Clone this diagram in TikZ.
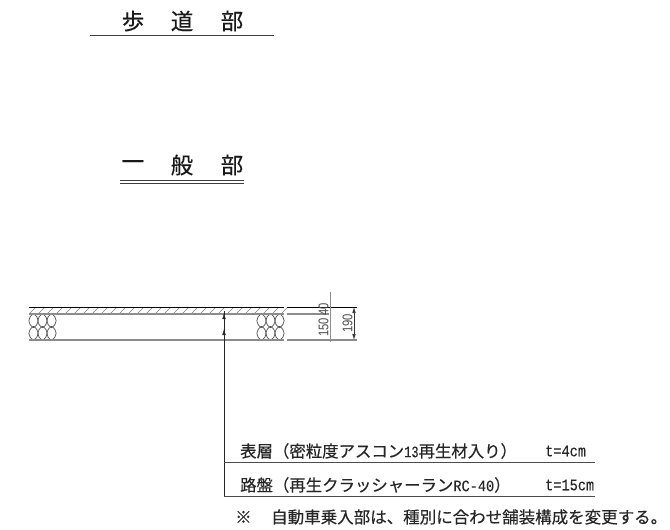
\documentclass[tikz,border=0pt]{standalone}
\usepackage{fontspec}
\usepackage{graphicx}
\usetikzlibrary{arrows.meta}
\setmainfont[FakeBold=0.25]{Noto Sans CJK JP}
\newfontfamily\lat[FakeBold=0.15]{Liberation Mono}
\newfontfamily\dimfont{Liberation Sans}
\newcommand{\narrowdim}[1]{\scalebox{0.8}[1]{#1}}
\newcommand{\narrowlat}[2][0.85]{\scalebox{#1}[1]{\fontsize{16}{16}\selectfont\lat #2}}
\begin{document}
\begin{tikzpicture}[x=1pt,y=-1pt,
  head/.style={inner sep=0pt,font=\fontsize{22.5}{23}\selectfont,text=black!90},
  lab/.style={inner sep=0pt,anchor=west,font=\fontsize{16.4}{17}\selectfont,text=black!85},
  note/.style={inner sep=0pt,anchor=west,font=\fontsize{16.5}{17}\selectfont,text=black!85},
  dimt/.style={inner sep=0pt,rotate=90,font=\fontsize{14}{14}\selectfont\dimfont,text=black!70},
  ln/.style={line width=0.8pt,black!75},
  gl/.style={line width=1.2pt,black!45},
  hatchline/.style={line width=0.7pt,black!50},
  rule/.style={line width=0.7pt,black!70},
  ov/.style={line width=0.75pt,black!65},
  tip/.style={-{Latex[length=6pt,width=3.5pt]},black!85}]
\useasboundingbox[fill=white] (0,0) rectangle (670,530);
% headings
\node[head] (h1) at (133,21) {歩};
\node[head] (h2) at (182,21) {道};
\node[head] (h3) at (232,21) {部};
\draw[ln] (90,35) -- (274,35);
\node[head] (g1) at (133,165) {一};
\node[head] (g2) at (182,165) {般};
\node[head] (g3) at (232,165) {部};
\draw[ln] (120,180) -- (244,180);
\draw[ln] (120,183.5) -- (244,183.5);
% hatch
\foreach \x in {29,38,...,281}
  \draw[hatchline] (\x,314) -- (\x+6.5,307.5);
% aggregate
\foreach \x in {33.5,42.5,51.5,261.5,270.5,279.5}
  \foreach \y in {320.7,333.3}
    \draw[ov] (\x,\y-7) .. controls (\x+6.2,\y-3) and (\x+6.2,\y+3) .. (\x,\y+7)
              .. controls (\x-6.2,\y+3) and (\x-6.2,\y-3) .. (\x,\y-7);
% section lines
\draw[line width=0.9pt,black] (29,307) -- (284,307) (287,307) -- (357,307);
\draw[gl] (29,314) -- (284,314) (287,314) -- (329,314);
\draw[gl] (29,340) -- (284,340) (287,340) -- (357,340);
% dimensions
\draw[line width=1pt,black!45] (330,292) -- (330,342);
\draw[line width=0.6pt,black!80,{Latex[length=6pt,width=3.5pt]}-{Latex[length=6pt,width=3.5pt]}] (354,307) -- (354,340);
\node[dimt] (d40) at (323.5,309) {\narrowdim{40}};
\node[dimt] (d150) at (323.5,327.5) {\narrowdim{150}};
\node[dimt] (d190) at (347.5,323.5) {\narrowdim{190}};
% leader
\coordinate (lt) at (224,311);
\coordinate (lb) at (224,496);
\draw[line width=0.7pt,black!85] (lt) -- (lb);
\draw[tip] (224,320) -- (224,313);
\draw[tip] (224,336) -- (224,329);
\draw[rule] (224,462) -- (595,462);
\draw[rule] (lb) -- (595,496);
% texts
\node[lab] (t1) at (240,451) {表層（密粒度アスコン\narrowlat[0.75]{13}再生材入り）};
\node[lab] (t2) at (545,451) {\narrowlat{t=4cm}};
\node[lab] (t3) at (240,485) {路盤（再生クラッシャーラン\narrowlat{RC-40}）};
\node[lab] (t4) at (545,485) {\narrowlat{t=15cm}};
\node[note] (n1) at (235,517) {※};
\node[note] (n2) at (271,517) {自動車乗入部は、種別に合わせ舗装構成を変更する。};
\end{tikzpicture}
\end{document}
